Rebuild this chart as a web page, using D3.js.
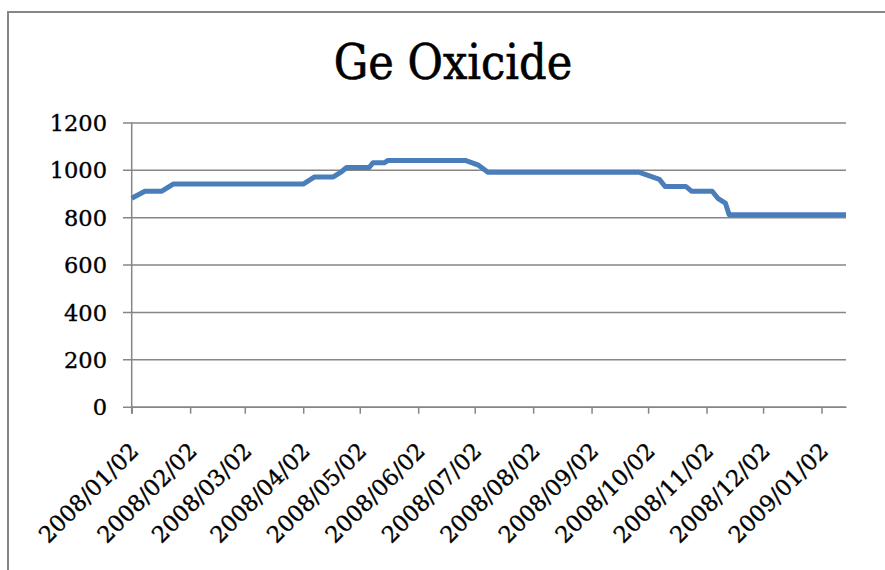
<!DOCTYPE html>
<html>
<head>
<meta charset="utf-8">
<script src="https://cdn.jsdelivr.net/npm/d3@7"></script>
<style>
  body { margin: 0; background: #fff; }
  svg { display: block; }
  .tick-label { font-family: "DejaVu Serif", serif; font-size: 22.5px; fill: #000; stroke: #000; stroke-width: 0.35px; }
  .title { font-family: "DejaVu Serif Condensed", "DejaVu Serif", serif; font-size: 48px; fill: #000; stroke: #000; stroke-width: 0.6px; }
</style>
</head>
<body>
<svg id="chart" width="885" height="570"></svg>
<script>
// price points where the line changes direction
const dates = ["2008-01-02", "2008-01-09", "2008-01-18", "2008-01-24", "2008-04-02",
               "2008-04-08", "2008-04-18", "2008-04-22", "2008-04-25", "2008-05-07",
               "2008-05-09", "2008-05-15", "2008-05-17", "2008-06-27", "2008-07-04",
               "2008-07-09", "2008-09-27", "2008-10-08", "2008-10-11", "2008-10-22",
               "2008-10-25", "2008-11-05", "2008-11-08", "2008-11-12", "2008-11-14",
               "2009-01-15"];
const values = [880, 910, 910, 940, 940,
                970, 970, 990, 1010, 1010,
                1030, 1030, 1040, 1040, 1020,
                990, 990, 960, 930, 930,
                910, 910, 880, 860, 810,
                810];
const yTicks = [0, 200, 400, 600, 800, 1000, 1200];
const xTickDates = ["2008-01-02", "2008-02-02", "2008-03-02", "2008-04-02", "2008-05-02",
                    "2008-06-02", "2008-07-02", "2008-08-02", "2008-09-02", "2008-10-02",
                    "2008-11-02", "2008-12-02", "2009-01-02"];

const parse = d3.utcParse("%Y-%m-%d");
const fmt = d3.utcFormat("%Y/%m/%d");
const gridColor = "#868686";

let svg = d3.select("#chart");

// outer frame
svg.append("rect")
   .attr("x", 8).attr("y", 12)
   .attr("width", 900).attr("height", 600)
   .attr("fill", "none")
   .attr("stroke", gridColor)
   .attr("stroke-width", 2);

svg.append("text")
   .attr("class", "title")
   .attr("x", 453).attr("y", 79)
   .attr("text-anchor", "middle")
   .text("Ge Oxicide");

let x = d3.scaleUtc()
          .domain([parse("2008-01-02"), parse("2009-01-15")])
          .range([131.7, 846]);
let y = d3.scaleLinear()
          .domain([0, 1200])
          .range([406.7, 122.5]);

// horizontal gridlines with the y axis labels
let yAxis = d3.axisLeft(y)
              .tickValues(yTicks)
              .tickSize(-(846 - 123))
              .tickPadding(16)
              .tickFormat(d3.format("d"));
let yg = svg.append("g")
            .attr("transform", "translate(123,0)")
            .call(yAxis);
yg.select(".domain").remove();
yg.selectAll(".tick line")
  .attr("stroke", gridColor)
  .attr("stroke-width", 1.5);
yg.selectAll(".tick text")
  .attr("class", "tick-label")
  .attr("dy", "0.36em");

// vertical axis line
svg.append("line")
   .attr("x1", x.range()[0]).attr("x2", x.range()[0])
   .attr("y1", y(1200)).attr("y2", y(0) + 7)
   .attr("stroke", gridColor)
   .attr("stroke-width", 1.5);

// bottom axis with monthly ticks
let xAxis = d3.axisBottom(x)
              .tickValues(xTickDates.map(parse))
              .tickSize(7)
              .tickSizeOuter(0)
              .tickFormat(fmt);
let xg = svg.append("g")
            .attr("transform", "translate(0," + y(0) + ")")
            .call(xAxis);
xg.select(".domain")
  .attr("stroke", gridColor)
  .attr("stroke-width", 1.5);
xg.selectAll(".tick line")
  .attr("stroke", gridColor)
  .attr("stroke-width", 1.5);
xg.selectAll(".tick text")
  .attr("class", "tick-label")
  .attr("text-anchor", "end")
  .attr("x", 0).attr("y", 0).attr("dy", "0.36em")
  .attr("transform", "translate(2,40) rotate(-45)");

// price line
let series = dates.map(function(d, i) {
    return { date: parse(d), value: values[i] };
});
let line = d3.line()
             .x(function(d) { return x(d.date); })
             .y(function(d) { return y(d.value); });
svg.append("path")
   .datum(series)
   .attr("d", line)
   .attr("fill", "none")
   .attr("stroke", "#4a7ebb")
   .attr("stroke-width", 5)
   .attr("stroke-linejoin", "round");
</script>
</body>
</html>
